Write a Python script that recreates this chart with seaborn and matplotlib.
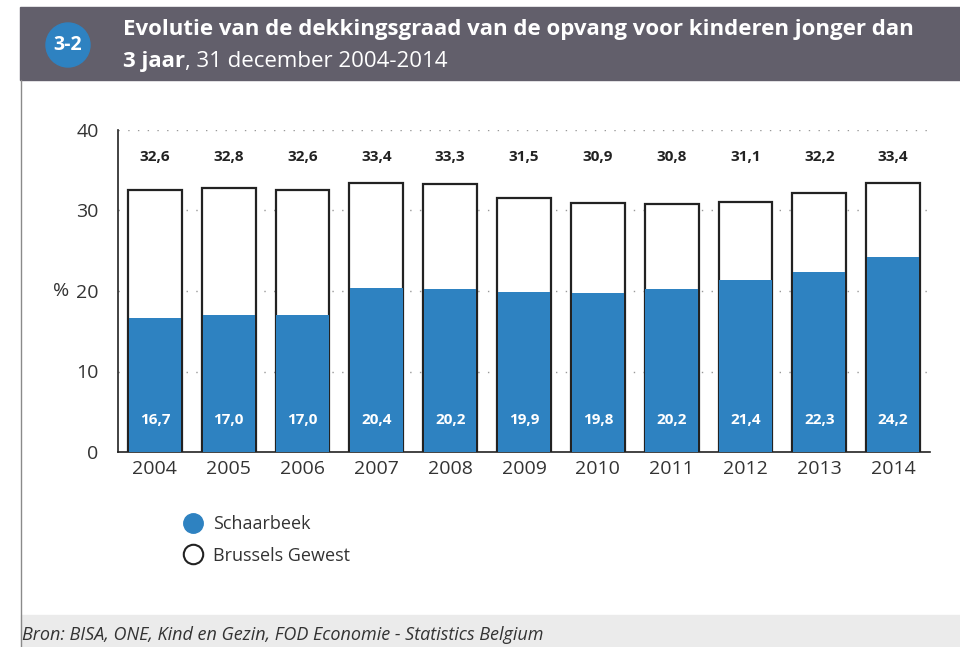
import pandas as pd
import seaborn as sns
import matplotlib.pyplot as plt
from matplotlib.patches import Rectangle, Circle
from matplotlib.lines import Line2D

years = ["2004", "2005", "2006", "2007", "2008", "2009", "2010", "2011", "2012", "2013", "2014"]
brussels = [32.6, 32.8, 32.6, 33.4, 33.3, 31.5, 30.9, 30.8, 31.1, 32.2, 33.4]
schaarbeek = [16.7, 17.0, 17.0, 20.4, 20.2, 19.9, 19.8, 20.2, 21.4, 22.3, 24.2]

BLUE = "#2e82c1"
sns.set_style("white")
plt.rcParams["font.family"] = ["Open Sans", "DejaVu Sans"]

df = pd.DataFrame({"year": years, "brussels": brussels, "schaarbeek": schaarbeek})

fig = plt.figure(figsize=(9.6, 6.47), dpi=100)

# header band, side rule and footer band
fig.patches.append(Rectangle((20 / 960, 1 - 80 / 647), 940 / 960, 73 / 647,
                             transform=fig.transFigure, color="#625f6b", zorder=0))
fig.add_artist(Line2D([20.5 / 960, 20.5 / 960], [0, 1 - 80 / 647], transform=fig.transFigure,
                      color="#8a8a8a", lw=1))
fig.patches.append(Rectangle((21 / 960, 0), 939 / 960, 32 / 647,
                             transform=fig.transFigure, color="#ebebeb", zorder=0))
# badge, in inches so it stays round
fig.add_artist(Circle((0.68, 6.47 - 0.45), 0.22, transform=fig.dpi_scale_trans, color=BLUE))
fig.text(68 / 960, 1 - 45 / 647, "3-2", color="white", fontsize=14, fontweight="bold",
         ha="center", va="center")
fig.text(123 / 960, 1 - 30 / 647,
         "Evolutie van de dekkingsgraad van de opvang voor kinderen jonger dan",
         color="white", fontsize=16, fontweight="bold", va="center")
t1 = fig.text(123 / 960, 1 - 62 / 647, "3 jaar", color="white", fontsize=16,
              fontweight="bold", va="center")
fig.canvas.draw()
bb = t1.get_window_extent()
fig.text(bb.x1 / 960, 1 - 62 / 647, ", 31 december 2004-2014", color="white",
         fontsize=16, va="center")
fig.text(22 / 960, 12 / 647, "Bron: BISA, ONE, Kind en Gezin, FOD Economie - Statistics Belgium",
         color="#333333", fontsize=13, style="italic", va="center")

ax = fig.add_axes([118 / 960, 1 - 452 / 647, 812 / 960, 322 / 647])
sns.barplot(data=df, x="year", y="brussels", color="white", edgecolor="#222222",
            linewidth=1.6, width=0.73, saturation=1, ax=ax, zorder=2)
sns.barplot(data=df, x="year", y="schaarbeek", color=BLUE, edgecolor="none",
            width=0.71, saturation=1, ax=ax, zorder=3)

for i, (b, s) in enumerate(zip(brussels, schaarbeek)):
    ax.text(i, 36.6, f"{b:.1f}".replace(".", ","), ha="center", va="center",
            fontsize=11, fontweight="bold", color="#222222")
    ax.text(i, 4.0, f"{s:.1f}".replace(".", ","), ha="center", va="center",
            fontsize=11, fontweight="bold", color="white", zorder=4)

ax.set_xlim(-0.5, 10.5)
ax.set_ylim(0, 40)
ax.set_yticks([0, 10, 20, 30, 40])
for y in [10, 20, 30, 40]:
    ax.axhline(y, color="#999999", lw=1, ls=(0, (1, 6)), zorder=1)
ax.set_xlabel("")
ax.set_ylabel("%", rotation=0, fontsize=14, color="#333333", va="center")
ax.yaxis.set_label_coords(-0.07, 0.5)
ax.tick_params(axis="both", labelsize=14, colors="#333333", length=0)
ax.tick_params(axis="y", pad=14)
ax.tick_params(axis="x", pad=6)
sns.despine(ax=ax, top=True, right=True)
ax.spines["left"].set_color("#222222")
ax.spines["bottom"].set_color("#222222")
ax.spines["left"].set_linewidth(1.2)
ax.spines["bottom"].set_linewidth(1.2)

handles = [Line2D([], [], marker="o", ls="none", markersize=14, markerfacecolor=BLUE,
                  markeredgecolor=BLUE, label="Schaarbeek"),
           Line2D([], [], marker="o", ls="none", markersize=14, markerfacecolor="white",
                  markeredgecolor="#222222", markeredgewidth=1.5, label="Brussels Gewest")]
fig.legend(handles=handles, loc="upper left", bbox_to_anchor=(175 / 960, 1 - 508 / 647),
           frameon=False, fontsize=13, handletextpad=0.5, labelspacing=0.75,
           labelcolor="#333333", borderaxespad=0, handlelength=1.2)

fig.savefig("out.png", dpi=100)
